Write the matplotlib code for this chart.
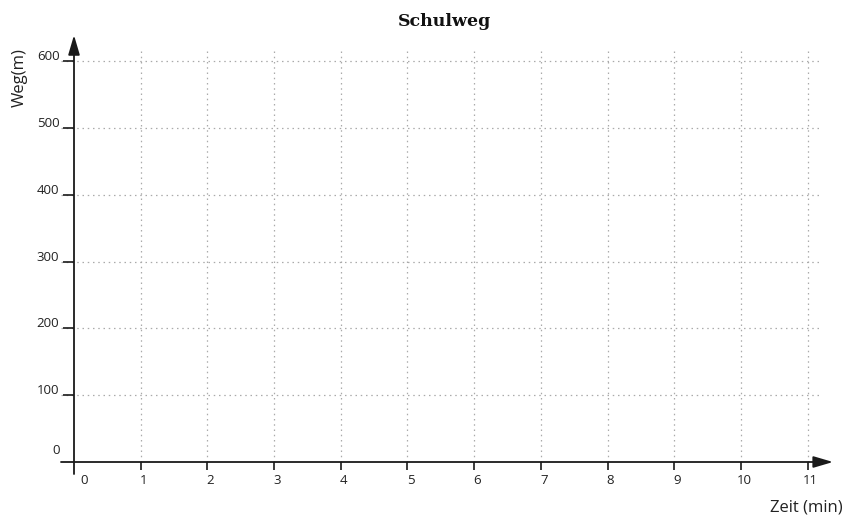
import matplotlib
matplotlib.use("Agg")
import matplotlib.pyplot as plt
import matplotlib.transforms as mtransforms

# chart data
title = "Schulweg"
x_label = "Zeit (min)"
y_label = "Weg(m)"
x_ticks = list(range(0, 12))
y_ticks = [0, 100, 200, 300, 400, 500, 600]

plt.rcParams['font.family'] = ['Open Sans', 'DejaVu Sans']

fig = plt.figure(figsize=(8.53, 5.2), dpi=100)
ax = fig.add_axes([0.04766, 0.06015, 0.9461, 0.8864])
ax.set_xlim(-0.5, 11.6)
ax.set_ylim(-40, 650)

# dotted grid
grid_style = dict(colors='#aaaaaa', linestyles=(0, (1.2, 3)), linewidth=0.9, zorder=1)
ax.hlines(y_ticks[1:], -0.2, 11.18, **grid_style)
ax.vlines(x_ticks[1:], 0, 620, **grid_style)

# axes with arrows
for s in ['top', 'right']:
    ax.spines[s].set_visible(False)
ax.spines['left'].set_position(('data', 0))
ax.spines['bottom'].set_position(('data', 0))
ax.spines['left'].set_color('none')
ax.spines['bottom'].set_color('none')
arrow = dict(arrowstyle='-|>,head_length=0.85,head_width=0.25', color='#1a1a1a',
             lw=1.3, mutation_scale=14, shrinkA=0, shrinkB=0)
ax.annotate('', xy=(11.38, 0), xytext=(-0.195, 0), arrowprops=arrow, zorder=3)
ax.annotate('', xy=(0, 639), xytext=(0, -18), arrowprops=arrow, zorder=3)

ax.set_xticks(x_ticks)
ax.set_yticks(y_ticks)
ax.set_xticklabels([str(v) for v in x_ticks])
ax.set_yticklabels([str(v) for v in y_ticks])
ax.tick_params(axis='x', direction='out', length=6, width=1.2, color='#1a1a1a',
               labelsize=9.5, pad=2.5, labelcolor='#222222')
ax.tick_params(axis='y', direction='out', length=8, width=1.2, color='#1a1a1a',
               labelsize=9.5, pad=2.5, labelcolor='#222222')
# no tick marks at the origin (axis lines already there)
ax.yaxis.get_major_ticks()[0].tick1line.set_visible(False)
ax.xaxis.get_major_ticks()[0].tick1line.set_visible(False)

# nudge tick labels like in the original
for i, lab in enumerate(ax.get_xticklabels()):
    dx = 10 if i == 0 else 3
    lab.set_transform(lab.get_transform() + mtransforms.ScaledTranslation(dx / 100, 0, fig.dpi_scale_trans))
for i, lab in enumerate(ax.get_yticklabels()):
    dy = 13 if i == 0 else 6
    lab.set_transform(lab.get_transform() + mtransforms.ScaledTranslation(0, dy / 100, fig.dpi_scale_trans))

fig.text(445 / 853, 1 - 22 / 520, title, ha='center', va='center', fontsize=12.5,
         fontweight='heavy', family=['DejaVu Serif'], color='#111111')
fig.text(20 / 853, 1 - 78 / 520, y_label, ha='center', va='center', rotation=90,
         fontsize=12, color='#222222')
fig.text(806 / 853, 1 - 508 / 520, x_label, ha='center', va='center',
         fontsize=12, color='#222222')

fig.savefig('out.png', dpi=100)
